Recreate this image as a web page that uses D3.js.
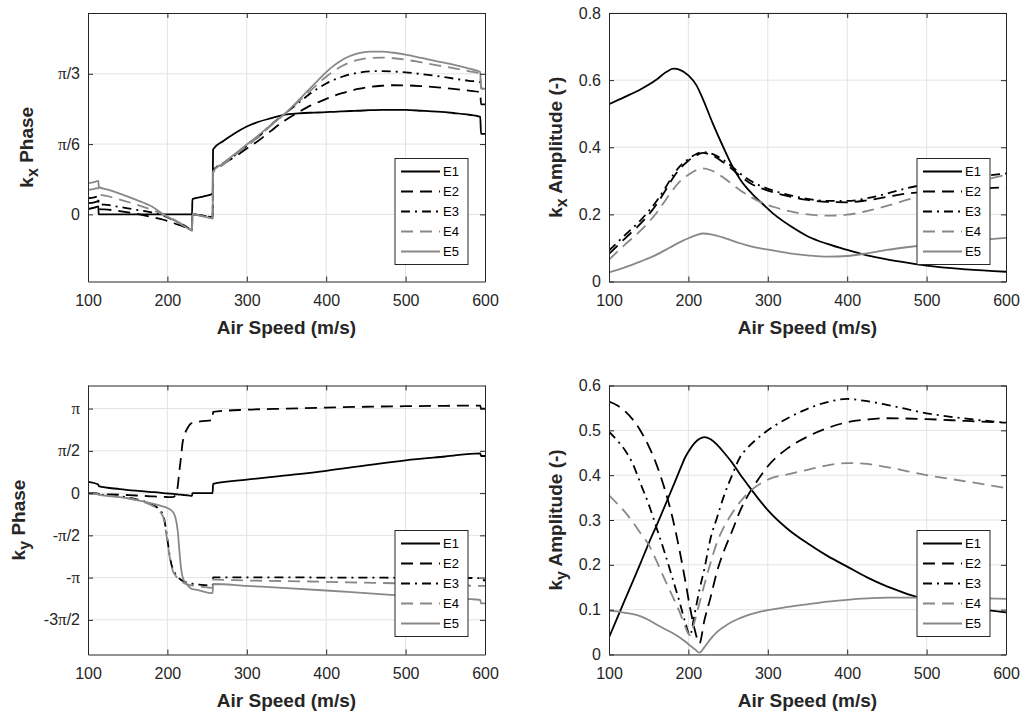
<!DOCTYPE html>
<html>
<head>
<meta charset="utf-8">
<script src="https://cdn.jsdelivr.net/npm/d3@7"></script>
<style>
  body { margin: 0; background: #fff; }
  svg { display: block; font-family: "Liberation Sans", Arial, Helvetica, sans-serif; }
</style>
</head>
<body>
<svg id="chart" width="1024" height="715"></svg>
<script>
// ---------- shared ----------
const airSpeedTicks = [100, 200, 300, 400, 500, 600];
const seriesNames = ["E1", "E2", "E3", "E4", "E5"];

// ---------- k_x phase (rad) ----------
const kxPhaseSpeed = [100, 108, 113, 113.5, 125, 140, 160, 180, 195, 210, 222, 231, 231.5, 245, 257, 257.5,
  270, 285, 300, 315, 330, 348, 365, 380, 390, 400, 410, 420, 430, 440, 455, 470, 485, 500, 520, 540, 560, 580, 594, 595, 600];
const kxPhaseE1 = [0.04, 0.05, 0.06, 0.0, 0, 0, 0, 0, 0, 0, 0, 0, 0.114, 0.133, 0.153, 0.484,
  0.545, 0.605, 0.655, 0.69, 0.715, 0.743, 0.752, 0.757, 0.759, 0.762, 0.764, 0.767, 0.77, 0.772, 0.776, 0.778, 0.779, 0.778, 0.772, 0.765, 0.755, 0.742, 0.726, 0.60, 0.60];
const kxPhaseE2 = [0.084, 0.09, 0.098, 0.04, 0.035, 0.025, 0.005, -0.02, -0.04, -0.07, -0.095, -0.12, 0.0, -0.01, -0.02, 0.33,
  0.375, 0.43, 0.49, 0.55, 0.62, 0.70, 0.76, 0.81, 0.835, 0.86, 0.883, 0.903, 0.92, 0.934, 0.95, 0.958, 0.962, 0.961, 0.955, 0.946, 0.935, 0.921, 0.91, 0.82, 0.82];
const kxPhaseE3 = [0.12, 0.127, 0.135, 0.08, 0.07, 0.055, 0.035, 0.015, -0.01, -0.05, -0.085, -0.115, 0.0, -0.01, -0.02, 0.33,
  0.38, 0.44, 0.51, 0.58, 0.665, 0.75, 0.83, 0.90, 0.94, 0.975, 1.003, 1.025, 1.042, 1.055, 1.065, 1.067, 1.064, 1.058, 1.045, 1.03, 1.012, 0.995, 0.985, 0.975, 0.97];
const kxPhaseE4 = [0.183, 0.19, 0.198, 0.15, 0.135, 0.11, 0.075, 0.035, 0.0, -0.045, -0.085, -0.115, 0.0, -0.015, -0.03, 0.31,
  0.37, 0.44, 0.51, 0.58, 0.66, 0.75, 0.84, 0.92, 0.975, 1.025, 1.07, 1.105, 1.132, 1.15, 1.165, 1.168, 1.163, 1.152, 1.132, 1.11, 1.09, 1.066, 1.047, 0.94, 0.93];
const kxPhaseE5 = [0.232, 0.24, 0.25, 0.205, 0.185, 0.155, 0.11, 0.06, 0.0, -0.05, -0.09, -0.12, 0.0, -0.015, -0.03, 0.32,
  0.38, 0.45, 0.52, 0.59, 0.665, 0.75, 0.85, 0.94, 1.0, 1.06, 1.11, 1.15, 1.18, 1.2, 1.213, 1.212, 1.204, 1.19, 1.165, 1.14, 1.115, 1.085, 1.06, 0.94, 0.935];
const kxPhaseTicks = [0, Math.PI / 6, Math.PI / 3];
const kxPhaseTickLabels = ["0", "π/6", "π/3"];

// ---------- k_x amplitude ----------
const kxAmpSpeed = [100, 120, 140, 160, 172, 181, 190, 200, 210, 218, 230, 244, 255, 265, 280, 295, 308, 330, 350, 375,
  400, 425, 450, 475, 500, 550, 600];
const kxAmpE1 = [0.528, 0.55, 0.573, 0.602, 0.624, 0.634, 0.630, 0.614, 0.585, 0.545, 0.475, 0.40, 0.345, 0.305, 0.262, 0.228, 0.20, 0.163, 0.135, 0.112,
  0.094, 0.078, 0.066, 0.056, 0.047, 0.036, 0.029];
const kxAmpE2 = [0.082, 0.128, 0.173, 0.23, 0.275, 0.31, 0.338, 0.36, 0.376, 0.383, 0.376, 0.355, 0.335, 0.315, 0.29, 0.275, 0.265, 0.252, 0.243, 0.237,
  0.236, 0.242, 0.252, 0.262, 0.268, 0.276, 0.28];
const kxAmpE3 = [0.092, 0.138, 0.183, 0.24, 0.283, 0.318, 0.345, 0.365, 0.38, 0.386, 0.38, 0.362, 0.342, 0.322, 0.298, 0.281, 0.27, 0.256, 0.246, 0.24,
  0.24, 0.248, 0.262, 0.278, 0.29, 0.308, 0.322];
const kxAmpE4 = [0.065, 0.11, 0.152, 0.205, 0.245, 0.275, 0.30, 0.318, 0.332, 0.337, 0.33, 0.31, 0.29, 0.272, 0.25, 0.232, 0.222, 0.208, 0.20, 0.196,
  0.199, 0.21, 0.225, 0.243, 0.26, 0.29, 0.318];
const kxAmpE5 = [0.027, 0.042, 0.06, 0.08, 0.095, 0.107, 0.118, 0.129, 0.138, 0.143, 0.14, 0.131, 0.122, 0.114, 0.104, 0.097, 0.092, 0.083, 0.078, 0.074,
  0.076, 0.084, 0.094, 0.102, 0.109, 0.121, 0.13];
const kxAmpTicks = [0, 0.2, 0.4, 0.6, 0.8];
const kxAmpTickLabels = ["0", "0.2", "0.4", "0.6", "0.8"];

// ---------- k_y phase (rad) ----------
const kyPhaseSpeed = [100, 113, 113.5, 140, 160, 180, 190, 195, 199, 203, 207, 210, 213, 215, 217, 219, 222, 226, 231, 231.5,
  240, 257, 257.5, 300, 350, 400, 450, 500, 550, 594, 595, 600];
const kyPhaseE1 = [0.42, 0.32, 0.26, 0.15, 0.09, 0.04, 0.02, 0.0, -0.01, -0.02, -0.03, -0.04, -0.05, -0.055, -0.06, -0.065, -0.075, -0.085, -0.1, 0.0,
  0.0, 0.0, 0.34, 0.50, 0.66, 0.83, 1.03, 1.22, 1.36, 1.48, 1.38, 1.38];
const kyPhaseE2 = [0.0, -0.02, -0.03, -0.06, -0.09, -0.12, -0.135, -0.14, -0.145, -0.15, -0.15, -0.08, 0.25, 0.8, 1.3, 1.85, 2.2, 2.45, 2.6, 2.6,
  2.66, 2.71, 3.02, 3.1, 3.14, 3.18, 3.21, 3.23, 3.245, 3.255, 3.14, 3.14];
const kyPhaseE3 = [0.0, -0.03, -0.04, -0.12, -0.22, -0.42, -0.62, -0.85, -1.5, -2.35, -2.85, -3.0, -3.12, -3.18, -3.22, -3.26, -3.3, -3.33, -3.37, -3.37,
  -3.4, -3.44, -3.13, -3.13, -3.13, -3.14, -3.14, -3.15, -3.15, -3.16, -3.24, -3.24];
const kyPhaseE4 = [-0.01, -0.04, -0.05, -0.14, -0.25, -0.45, -0.66, -0.92, -1.6, -2.4, -2.9, -3.05, -3.17, -3.22, -3.27, -3.31, -3.36, -3.4, -3.44, -3.44,
  -3.47, -3.52, -3.22, -3.25, -3.27, -3.3, -3.33, -3.36, -3.4, -3.45, -3.45, -3.45];
const kyPhaseE5 = [-0.01, -0.05, -0.06, -0.15, -0.25, -0.38, -0.46, -0.5, -0.54, -0.6, -0.7, -0.9, -1.4, -2.1, -2.75, -3.1, -3.3, -3.45, -3.57, -3.57,
  -3.62, -3.72, -3.38, -3.45, -3.53, -3.62, -3.72, -3.82, -3.9, -3.97, -4.1, -4.1];
const kyPhaseTicks = [-3 * Math.PI / 2, -Math.PI, -Math.PI / 2, 0, Math.PI / 2, Math.PI];
const kyPhaseTickLabels = ["-3π/2", "-π", "-π/2", "0", "π/2", "π"];

// ---------- k_y amplitude ----------
const kyAmpSpeed = [100, 110, 120, 130, 140, 150, 160, 170, 180, 190, 196, 202, 208, 214, 220, 228, 236, 245, 255, 265,
  275, 287, 300, 325, 350, 375, 400, 425, 450, 500, 550, 600];
const kyAmpE1 = [0.038, 0.08, 0.122, 0.163, 0.205, 0.248, 0.288, 0.33, 0.372, 0.415, 0.44, 0.458, 0.472, 0.481, 0.485, 0.48, 0.468, 0.45, 0.428, 0.402,
  0.378, 0.35, 0.322, 0.28, 0.248, 0.22, 0.196, 0.172, 0.152, 0.122, 0.105, 0.094];
const kyAmpE2 = [0.564, 0.556, 0.543, 0.524, 0.498, 0.465, 0.423, 0.37, 0.305, 0.222, 0.165, 0.105, 0.055, 0.025, 0.075, 0.128, 0.185, 0.232, 0.275, 0.32,
  0.355, 0.388, 0.42, 0.46, 0.486, 0.505, 0.518, 0.524, 0.527, 0.525, 0.521, 0.517];
const kyAmpE3 = [0.497, 0.478, 0.456, 0.425, 0.38, 0.335, 0.282, 0.228, 0.17, 0.11, 0.072, 0.043, 0.092, 0.145, 0.19, 0.26, 0.305, 0.355, 0.40, 0.44,
  0.462, 0.482, 0.50, 0.527, 0.548, 0.563, 0.57, 0.565, 0.557, 0.538, 0.526, 0.517];
const kyAmpE4 = [0.355, 0.337, 0.318, 0.295, 0.27, 0.245, 0.208, 0.168, 0.13, 0.09, 0.062, 0.043, 0.075, 0.115, 0.155, 0.205, 0.25, 0.285, 0.315, 0.34,
  0.36, 0.377, 0.39, 0.402, 0.412, 0.422, 0.427, 0.425, 0.418, 0.40, 0.386, 0.371];
const kyAmpE5 = [0.0975, 0.096, 0.093, 0.09, 0.085, 0.077, 0.067, 0.057, 0.048, 0.037, 0.029, 0.02, 0.012, 0.004, 0.016, 0.035, 0.05, 0.062, 0.073, 0.081,
  0.088, 0.094, 0.099, 0.106, 0.112, 0.118, 0.122, 0.125, 0.127, 0.127, 0.126, 0.124];
const kyAmpTicks = [0, 0.1, 0.2, 0.3, 0.4, 0.5, 0.6];
const kyAmpTickLabels = ["0", "0.1", "0.2", "0.3", "0.4", "0.5", "0.6"];

// ---------- styles ----------
const lineStyles = [
  { stroke: "#000000", dash: null },
  { stroke: "#000000", dash: "12,7" },
  { stroke: "#000000", dash: "9,5,2,5" },
  { stroke: "#888888", dash: "12,7" },
  { stroke: "#888888", dash: null }
];
const axisColor = "#262626";
const gridColor = "#e3e3e3";
const piFont = "'Liberation Serif', 'DejaVu Serif', serif";

const panels = [
  { box: { l: 88, r: 485, t: 13, b: 281.5 }, yDomain: [-0.5, 1.5],
    ticks: kxPhaseTicks, tickLabels: kxPhaseTickLabels,
    speed: kxPhaseSpeed, series: [kxPhaseE1, kxPhaseE2, kxPhaseE3, kxPhaseE4, kxPhaseE5],
    sub: "x", title: " Phase", labelX: 33, legend: { x: 395, y: 158.5 } },
  { box: { l: 609, r: 1006, t: 13, b: 281.5 }, yDomain: [0, 0.8],
    ticks: kxAmpTicks, tickLabels: kxAmpTickLabels,
    speed: kxAmpSpeed, series: [kxAmpE1, kxAmpE2, kxAmpE3, kxAmpE4, kxAmpE5],
    sub: "x", title: " Amplitude (-)", labelX: 562, legend: { x: 917, y: 158.5 } },
  { box: { l: 88, r: 485, t: 385.5, b: 654.5 }, yDomain: [-6, 4],
    ticks: kyPhaseTicks, tickLabels: kyPhaseTickLabels,
    speed: kyPhaseSpeed, series: [kyPhaseE1, kyPhaseE2, kyPhaseE3, kyPhaseE4, kyPhaseE5],
    sub: "y", title: " Phase", labelX: 25, legend: { x: 395, y: 530.5 } },
  { box: { l: 609, r: 1006, t: 385.5, b: 654.5 }, yDomain: [0, 0.6],
    ticks: kyAmpTicks, tickLabels: kyAmpTickLabels,
    speed: kyAmpSpeed, series: [kyAmpE1, kyAmpE2, kyAmpE3, kyAmpE4, kyAmpE5],
    sub: "y", title: " Amplitude (-)", labelX: 562, legend: { x: 917, y: 530.5 } }
];

const svg = d3.select("#chart");

function writeLabel(textSel, label) {
  textSel.text(null);
  const parts = label.split("π");
  parts.forEach((p, i) => {
    if (p) textSel.append("tspan").text(p);
    if (i < parts.length - 1) textSel.append("tspan").attr("font-family", piFont).attr("font-size", "17px").text("π");
  });
}

panels.forEach((cfg, pi) => {
  const { l, r, t, b } = cfg.box;
  const x = d3.scaleLinear().domain([100, 600]).range([l, r]);
  const y = d3.scaleLinear().domain(cfg.yDomain).range([b, t]);
  const g = svg.append("g");

  // grid
  g.append("g").selectAll("line").data(airSpeedTicks.slice(1, -1)).join("line")
    .attr("x1", d => x(d)).attr("x2", d => x(d)).attr("y1", t).attr("y2", b)
    .attr("stroke", gridColor).attr("stroke-width", 1);
  g.append("g").selectAll("line").data(cfg.ticks).join("line")
    .attr("x1", l).attr("x2", r).attr("y1", d => y(d)).attr("y2", d => y(d))
    .attr("stroke", gridColor).attr("stroke-width", 1);

  // series lines
  const clipId = "clip" + pi;
  svg.append("clipPath").attr("id", clipId).append("rect")
    .attr("x", l).attr("y", t).attr("width", r - l).attr("height", b - t);
  const line = d3.line().x((d, i) => x(cfg.speed[i])).y(d => y(d)).curve(d3.curveMonotoneX);
  const lines = g.append("g").attr("clip-path", `url(#${clipId})`);
  cfg.series.forEach((vals, si) => {
    const st = lineStyles[si];
    lines.append("path").datum(vals)
      .attr("d", line)
      .attr("fill", "none")
      .attr("stroke", st.stroke)
      .attr("stroke-width", 1.8)
      .attr("stroke-linejoin", "round")
      .attr("stroke-dasharray", st.dash);
  });

  // axes (ticks point inward on all four sides)
  const bottomAxis = d3.axisBottom(x).tickValues(airSpeedTicks).tickSize(-5).tickSizeOuter(0).tickPadding(13);
  const topAxis = d3.axisTop(x).tickValues(airSpeedTicks).tickSize(-5).tickSizeOuter(0).tickFormat("");
  const leftAxis = d3.axisLeft(y).tickValues(cfg.ticks).tickSize(-5).tickSizeOuter(0).tickPadding(8);
  const rightAxis = d3.axisRight(y).tickValues(cfg.ticks).tickSize(-5).tickSizeOuter(0).tickFormat("");

  const styleAxis = sel => {
    sel.select(".domain").attr("stroke", axisColor);
    sel.selectAll(".tick line").attr("stroke", axisColor);
    sel.selectAll(".tick text").attr("fill", axisColor).attr("font-size", "16px")
      .attr("font-family", "'Liberation Sans', Arial, sans-serif");
  };
  g.append("g").attr("transform", `translate(0,${b})`).call(bottomAxis).call(styleAxis);
  g.append("g").attr("transform", `translate(0,${t})`).call(topAxis).call(styleAxis);
  const la = g.append("g").attr("transform", `translate(${l},0)`).call(leftAxis).call(styleAxis);
  g.append("g").attr("transform", `translate(${r},0)`).call(rightAxis).call(styleAxis);
  la.selectAll(".tick text").each(function (d, i) { writeLabel(d3.select(this), cfg.tickLabels[i]); });

  // axis titles
  g.append("text")
    .attr("x", (l + r) / 2).attr("y", b + 52)
    .attr("text-anchor", "middle").attr("font-weight", "bold").attr("font-size", "19px")
    .attr("fill", axisColor)
    .text("Air Speed (m/s)");
  const yl = g.append("text")
    .attr("transform", `translate(${cfg.labelX},${(t + b) / 2}) rotate(-90)`)
    .attr("text-anchor", "middle").attr("font-weight", "bold").attr("font-size", "19px")
    .attr("fill", axisColor);
  yl.append("tspan").text("k");
  yl.append("tspan").attr("dy", 5).attr("font-size", "16px").text(cfg.sub);
  yl.append("tspan").attr("dy", -5).text(cfg.title);

  // legend
  const lg = g.append("g").attr("transform", `translate(${cfg.legend.x},${cfg.legend.y})`);
  lg.append("rect").attr("width", 73).attr("height", 106)
    .attr("fill", "#fff").attr("stroke", axisColor).attr("stroke-width", 1);
  seriesNames.forEach((name, si) => {
    const st = lineStyles[si];
    const yy = 13 + si * 20;
    lg.append("line").attr("x1", 6).attr("x2", 45).attr("y1", yy).attr("y2", yy)
      .attr("stroke", st.stroke).attr("stroke-width", 1.8).attr("stroke-dasharray", st.dash);
    lg.append("text").attr("x", 48).attr("y", yy).attr("dy", "0.36em")
      .attr("font-size", "13px").attr("fill", "#000").text(name);
  });
});
</script>
</body>
</html>
